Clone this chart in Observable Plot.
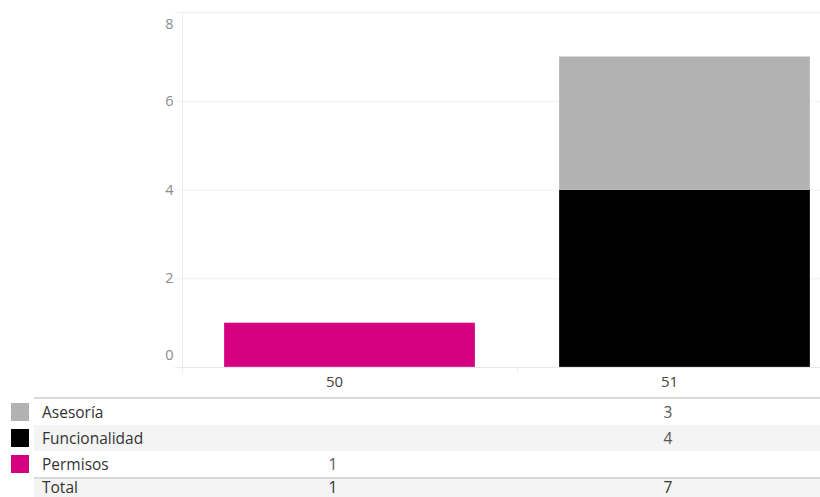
<!DOCTYPE html>
<html>
<head>
<meta charset="utf-8">
<script src="https://cdn.jsdelivr.net/npm/d3@7"></script>
<script src="https://cdn.jsdelivr.net/npm/@observablehq/plot@0.6"></script>
<style>
  html, body { margin: 0; padding: 0; background: #fff; }
  #wrap { position: relative; width: 820px; height: 497px; overflow: hidden; font-family: "Open Sans", sans-serif; }
  #chart svg { display: block; }
  .line { position: absolute; left: 34px; right: 0; height: 2px; background: #d9d9d9; }
  .row { position: absolute; left: 34px; right: 0; }
  .sw { position: absolute; left: 11px; width: 18px; height: 18px; }
  .lab { position: absolute; left: 42px; font-size: 15.5px; line-height: 16px; color: #333; }
  .val { position: absolute; width: 60px; margin-left: -30px; text-align: center; font-size: 15.5px; line-height: 16px; color: #555; }
</style>
</head>
<body>
<div id="wrap">
  <div id="chart"></div>
  <div id="table"></div>
</div>
<script>
// Data
const weeks = ["50", "51"];
const categories = ["Asesoría", "Funcionalidad", "Permisos"];
const colors = ["#b2b2b2", "#000000", "#d5007f"];
const valuesAsesoria = [null, 3];
const valuesFuncionalidad = [null, 4];
const valuesPermisos = [1, null];
const yTicks = [0, 2, 4, 6, 8];

const seriesValues = {"Asesoría": valuesAsesoria, "Funcionalidad": valuesFuncionalidad, "Permisos": valuesPermisos};
// stacking order bottom-to-top
const stackOrder = ["Permisos", "Funcionalidad", "Asesoría"];
const rows = [];
for (const c of stackOrder) {
  weeks.forEach((w, i) => {
    const v = seriesValues[c][i];
    if (v != null) rows.push({week: w, cat: c, value: v});
  });
}

const tickStyle = {tickSize: 0, tickPadding: 9, fontSize: 14.5, fill: "#8c8c8c", label: null};
const chart = Plot.plot({
  width: 820,
  height: 397,
  marginLeft: 182,
  marginRight: 0,
  marginTop: 12,
  marginBottom: 30,
  x: {domain: weeks, range: [182, 852], paddingInner: 0.25, paddingOuter: 0.125, axis: null},
  y: {domain: [0, 8], axis: null},
  color: {domain: categories, range: colors},
  style: {fontFamily: "Open Sans, sans-serif"},
  marks: [
    Plot.ruleY(yTicks.filter(d => d > 0), {stroke: "#f0f0f0", strokeWidth: 1, insetLeft: -7}),
    Plot.frame({anchor: "left", stroke: "#ebebeb", insetBottom: -5}),
    Plot.ruleX(["51"], {y1: 0, y2: 0, dx: -167.5, insetBottom: -5, stroke: "#ebebeb"}),
    Plot.barY(rows, {x: "week", y: "value", fill: "cat", order: stackOrder, stroke: "#ffffff", strokeOpacity: 0.25, strokeWidth: 1}),
    Plot.ruleY([0], {stroke: "#e8e8e8", strokeWidth: 1, insetLeft: -7}),
    Plot.axisY([2, 4, 6], {...tickStyle}),
    Plot.axisY([8], {...tickStyle, dy: 12}),
    Plot.axisY([0], {...tickStyle, dy: -12}),
    Plot.text(weeks, {x: d => d, frameAnchor: "bottom", dy: 19, dx: -15.5, text: d => d, fontSize: 15, fill: "#444"})
  ]
});
document.getElementById("chart").appendChild(chart);

// Table below
const table = document.getElementById("table");
const colX = [333, 668];
const rowH = 26;
let yPos = 397;
function add(html) { table.insertAdjacentHTML("beforeend", html); }
add(`<div class="line" style="top:${yPos}px"></div>`);
yPos += 2;
const rowBg = ["#ffffff", "#f4f4f4", "#ffffff"];
categories.forEach((c, r) => {
  const t = yPos + r * rowH;
  add(`<div class="row" style="top:${t}px;height:${rowH}px;background:${rowBg[r]}"></div>`);
  add(`<div class="sw" style="top:${t + 4}px;background:${colors[r]}"></div>`);
  add(`<div class="lab" style="top:${t + 5}px">${c}</div>`);
  seriesValues[c].forEach((v, i) => {
    if (v != null) add(`<div class="val" style="left:${colX[i]}px;top:${t + 5}px">${v}</div>`);
  });
});
yPos += categories.length * rowH;
add(`<div class="line" style="top:${yPos}px"></div>`);
yPos += 2;
add(`<div class="row" style="top:${yPos}px;height:${rowH}px;background:#f4f4f4"></div>`);
add(`<div class="lab" style="top:${yPos}px">Total</div>`);
weeks.forEach((w, i) => {
  const tot = categories.reduce((s, c) => s + (seriesValues[c][i] || 0), 0);
  add(`<div class="val" style="left:${colX[i]}px;top:${yPos}px;color:#333">${tot}</div>`);
});
</script>
</body>
</html>
